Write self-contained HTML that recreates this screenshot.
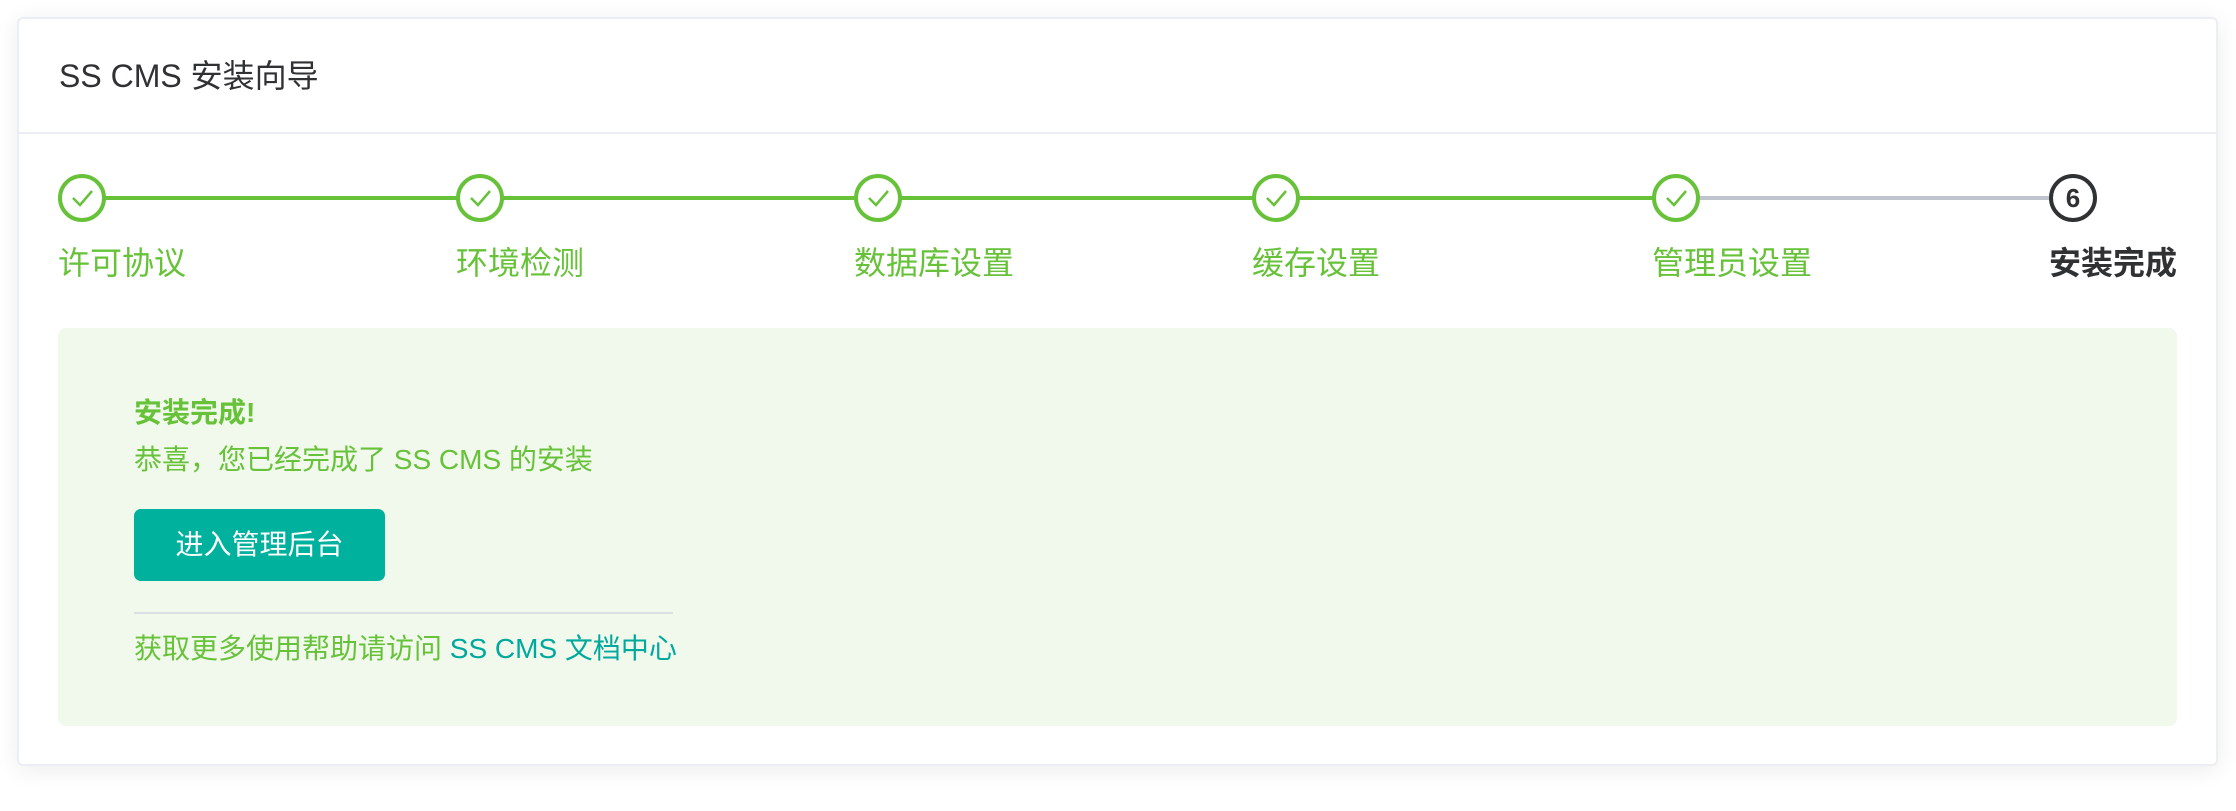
<!DOCTYPE html>
<html><head><meta charset="utf-8"><style>
*{margin:0;padding:0;box-sizing:border-box}
body{width:2236px;height:811px;background:#fff;position:relative;overflow:hidden;font-family:"Liberation Sans","Noto Sans CJK SC",sans-serif}
.card{position:absolute;left:17px;top:17px;width:2201px;height:749px;border:2px solid #ebeef5;border-radius:6px;background:#fff;box-shadow:0 4px 24px rgba(0,0,0,0.08)}
.abs{position:absolute;white-space:nowrap}
.hdr{left:59px;top:54px;font-size:32px;color:#303133;line-height:44px}
.div{left:17px;top:132px;width:2201px;height:2px;background:#ebeef5}
.circ{position:absolute;width:48px;height:48px;border:4px solid #67c23a;border-radius:50%;top:174px;background:#fff}
.line{position:absolute;top:196px;height:4px;background:#67c23a}
.lbl{top:241px;font-size:32px;line-height:44px;color:#67c23a}
.box{left:58px;top:328px;width:2119px;height:398px;background:#f0f9eb;border-radius:8px}
.g{color:#67c23a}
</style></head><body>
<div class="card"></div>
<div class="abs hdr">SS CMS 安装向导</div>
<div class="abs div"></div>

<div class="line" style="left:104px;width:354px"></div>
<div class="line" style="left:502px;width:354px"></div>
<div class="line" style="left:900px;width:354px"></div>
<div class="line" style="left:1298px;width:356px"></div>
<div class="line" style="left:1698px;width:353px;background:#c0c4cc"></div>

<div class="circ" style="left:58px"><svg width="40" height="40" viewBox="0 0 40 40"><polyline points="11,20 18,27 30,13" fill="none" stroke="#67c23a" stroke-width="2.5"/></svg></div>
<div class="circ" style="left:456px"><svg width="40" height="40" viewBox="0 0 40 40"><polyline points="11,20 18,27 30,13" fill="none" stroke="#67c23a" stroke-width="2.5"/></svg></div>
<div class="circ" style="left:854px"><svg width="40" height="40" viewBox="0 0 40 40"><polyline points="11,20 18,27 30,13" fill="none" stroke="#67c23a" stroke-width="2.5"/></svg></div>
<div class="circ" style="left:1252px"><svg width="40" height="40" viewBox="0 0 40 40"><polyline points="11,20 18,27 30,13" fill="none" stroke="#67c23a" stroke-width="2.5"/></svg></div>
<div class="circ" style="left:1652px"><svg width="40" height="40" viewBox="0 0 40 40"><polyline points="11,20 18,27 30,13" fill="none" stroke="#67c23a" stroke-width="2.5"/></svg></div>
<div class="circ" style="left:2049px;border-color:#303133;text-align:center;font-weight:bold;font-size:26px;line-height:40px;color:#303133">6</div>

<div class="abs lbl" style="left:58px">许可协议</div>
<div class="abs lbl" style="left:456px">环境检测</div>
<div class="abs lbl" style="left:854px">数据库设置</div>
<div class="abs lbl" style="left:1252px">缓存设置</div>
<div class="abs lbl" style="left:1652px">管理员设置</div>
<div class="abs lbl" style="left:2049px;color:#303133;font-weight:bold">安装完成</div>

<div class="abs box"></div>
<div class="abs g" style="left:134px;top:393px;font-size:28px;font-weight:bold;line-height:40px">安装完成!</div>
<div class="abs g" style="left:134px;top:440px;font-size:28px;line-height:40px">恭喜，您已经完成了 SS CMS 的安装</div>
<div class="abs" style="left:134px;top:509px;width:251px;height:72px;background:#00b19d;border-radius:7px;color:#fff;font-size:28px;line-height:72px;text-align:center">进入管理后台</div>
<div class="abs" style="left:134px;top:612px;width:539px;height:2px;background:#dcdfe6"></div>
<div class="abs" style="left:134px;top:629px;font-size:28px;line-height:40px"><span class="g">获取更多使用帮助请访问</span> <span style="color:#00a99d">SS CMS 文档中心</span></div>
</body></html>
